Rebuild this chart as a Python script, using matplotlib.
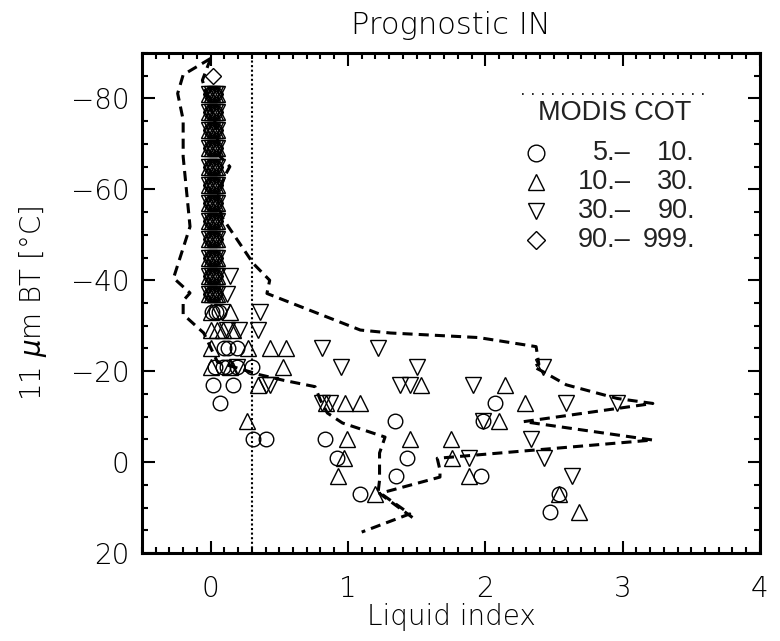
import numpy as np
import matplotlib
matplotlib.use('Agg')
import matplotlib.pyplot as plt
from matplotlib.ticker import MultipleLocator

plt.rcParams['font.family'] = ['DejaVu Sans']
plt.rcParams['font.weight'] = 'light'
plt.rcParams['axes.titleweight'] = 'light'
plt.rcParams['axes.labelweight'] = 'light'

# Рівні BT, на яких щільний стовпчик точок біля нуля
col_levels = [-81, -77, -73, -69, -65, -61, -57, -53, -49, -45, -41, -37]
col_x_tri = [-0.01, 0.01, 0.03, 0.05]
col_x_circ = [0.0, 0.03]
col_x_dia = [0.0, 0.03]

# MODIS COT 5-10 (кола)
circ_x = [0.01, 0.04, 0.06, 0.10, 0.13, 0.19, 0.03, 0.09, 0.12, 0.19, 0.30,
          0.02, 0.16, 0.07, 0.31, 0.40, 0.83, 0.92, 1.09, 1.34, 1.43, 1.35,
          2.07, 1.98, 1.97, 2.54, 2.47]
circ_y = [-33, -33, -33, -25, -25, -25, -21, -21, -21, -21, -21,
          -17, -17, -13, -5, -5, -5, -1, 7, -9, -1, 3,
          -13, -9, 3, 7, 11]

# MODIS COT 10-30 (трикутники вгору)
up_x = [0.0, 0.14, 0.0, 0.05, 0.09, 0.16, 0.0, 0.27, 0.43, 0.55, 0.0, 0.14, 0.53,
        0.345, 0.84, 0.98, 1.09, 0.265, 0.99, 0.97, 0.93, 1.20, 1.53, 2.14,
        2.29, 2.10, 1.45, 1.75, 1.76, 1.88, 2.54, 2.68]
up_y = [-33, -33, -29, -29, -29, -29, -25, -25, -25, -25, -21, -21, -21,
        -17, -13, -13, -13, -9, -5, -1, 3, 7, -17, -17,
        -13, -9, -5, -5, -1, 3, 7, 11]

# MODIS COT 30-90 (трикутники вниз)
dn_x = [0.14, 0.12, 0.08, 0.36, 0.12, 0.21, 0.345, 0.81, 1.22, 0.19, 0.95,
        0.40, 0.43, 0.81, 0.87, 1.50, 2.42, 1.38, 1.45, 1.91, 2.59, 2.96,
        1.98, 2.33, 1.88, 2.43, 2.63]
dn_y = [-41, -37, -33, -33, -29, -29, -29, -25, -25, -21, -21,
        -17, -17, -13, -13, -21, -21, -17, -17, -17, -13, -13,
        -9, -5, -1, -1, 3]

# MODIS COT 90-999 (ромби)
dia_x = [0.02]
dia_y = [-85]

# Пунктирні огинаючі
left_x = [0.0, -0.2, -0.24, -0.2, -0.2, -0.15, -0.27, -0.15, -0.2, -0.2, -0.05,
          0.05, 0.36, 0.53, 0.76, 0.80, 0.85, 0.96, 1.27, 1.23, 1.23, 1.22, 1.45, 1.10]
left_y = [-88.8, -85.2, -81.1, -75.3, -67.2, -51.8, -40.5, -37.2, -35.5, -32.5, -28.4,
          -22, -19.2, -18, -16.6, -13.6, -10.8, -8.6, -5.5, -2, 4, 6.5, 11.4, 15.4]

right_x = [0.0, -0.06, 0.03, 0.07, 0.14, 0.10, 0.05, 0.08, 0.31, 0.43, 0.41, 1.09,
           1.31, 1.95, 2.37, 2.39, 2.35, 2.42, 2.59, 2.96, 3.22, 2.28, 3.22,
           1.65, 1.67, 1.67, 1.23, 1.47]
right_y = [-88.8, -84, -75, -67.2, -65, -62.8, -58, -54, -43.7, -40, -37.1, -29.05,
           -28.4, -27.4, -25.4, -21.5, -21, -19.9, -17, -14, -12.9, -8.9, -4.85,
           -0.83, 1.75, 3.3, 6.9, 12.2]

vline_x = 0.3

fig = plt.figure(figsize=(7.8, 6.41), dpi=100)
ax = fig.add_axes([0.182, 0.1373, 0.7923, 0.78])

mk = dict(linestyle='none', markerfacecolor='none', markeredgecolor='black',
          markeredgewidth=1.0)

# щільний стовпчик
for yv in col_levels:
    ax.plot(col_x_tri, [yv] * len(col_x_tri), marker='^', markersize=11, **mk)
    ax.plot(col_x_tri, [yv] * len(col_x_tri), marker='v', markersize=11, **mk)
    ax.plot(col_x_circ, [yv] * len(col_x_circ), marker='o', markersize=10.5, **mk)
    ax.plot(col_x_dia, [yv] * len(col_x_dia), marker='D', markersize=8.5, **mk)

ax.plot(circ_x, circ_y, marker='o', markersize=10.5, **mk)
ax.plot(up_x, up_y, marker='^', markersize=11, **mk)
ax.plot(dn_x, dn_y, marker='v', markersize=11, **mk)
ax.plot(dia_x, dia_y, marker='D', markersize=8.5, **mk)

ax.plot(left_x, left_y, color='black', lw=2.2, linestyle=(0, (3.3, 2.0)))
ax.plot(right_x, right_y, color='black', lw=2.2, linestyle=(0, (3.3, 2.0)))
ax.axvline(vline_x, color='black', lw=1.5, linestyle=(0, (1, 1.2)))

ax.set_xlim(-0.5, 4)
ax.set_ylim(20, -90)
ax.set_yticks([-80, -60, -40, -20, 0, 20])
ax.set_xticks([0, 1, 2, 3, 4])
ax.xaxis.set_minor_locator(MultipleLocator(0.1))
ax.yaxis.set_minor_locator(MultipleLocator(5))
ax.tick_params(axis='x', which='major', direction='in', top=True, bottom=True,
               labelsize=20, width=1.5, length=9, pad=16)
ax.tick_params(axis='y', which='major', direction='in', left=True, right=True,
               labelsize=20, width=1.5, length=9, pad=9)
ax.tick_params(which='minor', direction='in', top=True, bottom=True,
               left=True, right=True, width=1.5, length=4.5)
for s in ax.spines.values():
    s.set_linewidth(2.2)

ax.set_xlabel('Liquid index', fontsize=20)
ax.set_ylabel('11 $\\mu$m BT [°C]', fontsize=20)
ax.xaxis.set_label_coords(0.5, -0.1)
ax.yaxis.set_label_coords(-0.15, 0.5)
ax.set_title('Prognostic IN', fontsize=22, pad=14)

# легенда
tr = ax.transAxes
ax.plot([0.615, 0.919], [0.918, 0.918], transform=tr, color='black', lw=1.2,
        linestyle=(0, (1, 5)))
ax.text(0.765, 0.88, 'MODIS COT', transform=tr, ha='center', va='center',
        fontsize=19.5, family='Liberation Sans', color='#222222')
leg_marks = ['o', '^', 'v', 'D']
leg_sizes = [12, 12, 12, 9.5]
leg_lo = ['5.–', '10.–', '30.–', '90.–']
leg_hi = ['10.', '30.', '90.', '999.']
leg_y = [0.80, 0.742, 0.684, 0.626]
for m, sz, lo, hi, yy in zip(leg_marks, leg_sizes, leg_lo, leg_hi, leg_y):
    ax.plot([0.6375], [yy], transform=tr, marker=m, markersize=sz, **mk)
    ax.text(0.791, yy, lo, transform=tr, ha='right', va='center',
            fontsize=19.5, family='Liberation Sans', color='#222222')
    ax.text(0.895, yy, hi, transform=tr, ha='right', va='center',
            fontsize=19.5, family='Liberation Sans', color='#222222')

plt.savefig('out.png', dpi=100)
